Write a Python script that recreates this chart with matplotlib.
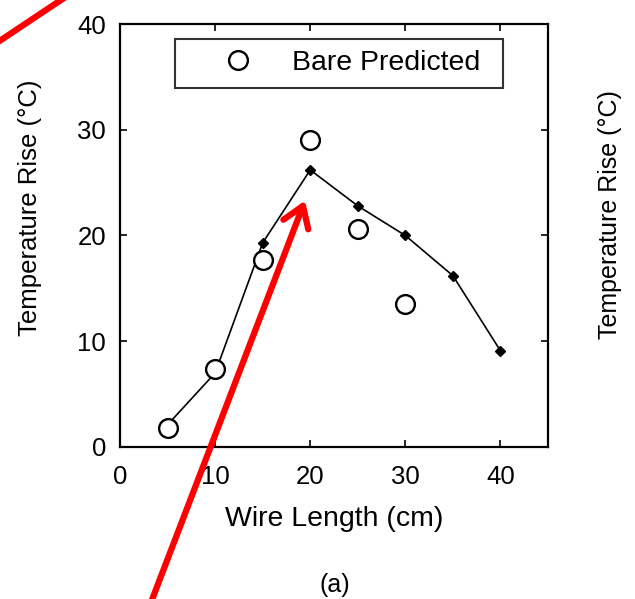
import numpy as np
import matplotlib
matplotlib.use("Agg")
import matplotlib.pyplot as plt

# Measured curve (filled diamonds, joined by line)
lengthMeasured = [5, 10, 15, 20, 25, 30, 35, 40]
riseMeasured = [2.1, 7.0, 19.3, 26.2, 22.8, 20.0, 16.2, 9.1]

# Bare predicted (open circles)
lengthPredicted = [5, 10, 15, 20, 25, 30]
risePredicted = [1.8, 7.4, 17.7, 29.0, 20.6, 13.5]

xTicks = [0, 10, 20, 30, 40]
yTicks = [0, 10, 20, 30, 40]

plt.rcParams['font.family'] = ['Liberation Sans', 'DejaVu Sans']

fig = plt.figure(figsize=(6.35, 5.99), dpi=100)
W, H = 635, 599
# axes box in pixels: left 120, right 548, top 24, bottom 447
ax = fig.add_axes([120 / W, 1 - 447 / H, (548 - 120) / W, (447 - 24) / H])

ax.plot(lengthMeasured, riseMeasured, color='black', lw=1.2,
        marker='D', markersize=5.5, markerfacecolor='black')
ax.plot(lengthPredicted, risePredicted, linestyle='none', marker='o',
        markersize=13.5, markerfacecolor='white', markeredgecolor='black',
        markeredgewidth=1.7, label='Bare Predicted')

ax.set_xlim(0, 45)
ax.set_ylim(0, 40)
ax.set_xticks(xTicks)
ax.set_yticks(yTicks)
ax.tick_params(direction='in', top=True, right=True, length=5, width=1.2,
               labelsize=18.5)
ax.tick_params(axis='x', pad=13)
ax.tick_params(axis='y', pad=10)
for sp in ax.spines.values():
    sp.set_linewidth(1.6)

ax.set_xlabel('Wire Length (cm)', fontsize=20.5, labelpad=12)
ax.set_ylabel('Temperature Rise (°C)', fontsize=18.5)
ax.yaxis.set_label_coords(-0.182, 0.565)

leg = ax.legend(loc='upper left', mode='expand', borderaxespad=0,
                bbox_to_anchor=(55 / 428, 1 - 68 / 423, 328 / 428, 53 / 423),
                fontsize=20.5, frameon=True, fancybox=False, edgecolor='black',
                borderpad=0.4, handletextpad=0.1, handlelength=3.6)
leg.get_frame().set_linewidth(1.5)

fig.text(335 / W, 1 - 585 / H, '(a)', ha='center', va='center', fontsize=18)
# neighbouring panel's label, cut at the right edge
fig.text(610 / W, 1 - 215 / H, 'Temperature Rise (°C)', ha='center',
         va='center', rotation=90, fontsize=18)

# red annotation arrows from the slide
fig.add_artist(matplotlib.patches.FancyArrowPatch(
    (150 / W, 1 - 605 / H), (306 / W, 1 - 198 / H),
    transform=fig.transFigure, arrowstyle='->,head_length=9,head_width=6',
    color='red', lw=4.5, mutation_scale=1.6))
fig.add_artist(plt.Line2D([-5 / W, 64 / W], [1 - 44 / H, 1 + 2 / H],
                          transform=fig.transFigure, color='red', lw=4.5))

fig.savefig('out.png', dpi=100)
